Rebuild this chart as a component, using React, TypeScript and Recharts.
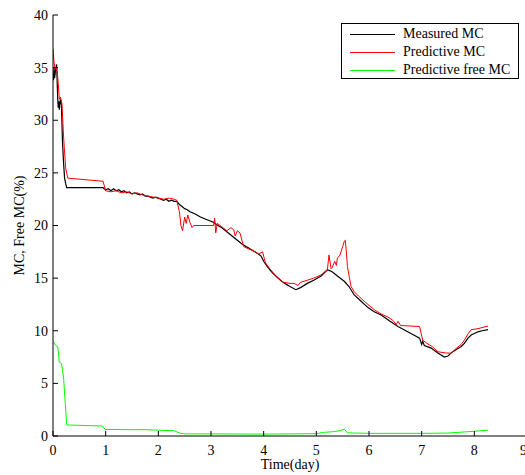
import { LineChart, Line, XAxis, YAxis, Legend } from "recharts";

// measured moisture content (%) vs time (day)
const measuredMC = [
  { t: 0.0, v: 34.5 }, { t: 0.01, v: 33.8 }, { t: 0.02, v: 35.0 }, { t: 0.03, v: 34.0 },
  { t: 0.05, v: 34.8 }, { t: 0.07, v: 35.3 }, { t: 0.08, v: 33.5 }, { t: 0.09, v: 32.0 },
  { t: 0.1, v: 31.2 }, { t: 0.11, v: 31.8 }, { t: 0.12, v: 31.0 }, { t: 0.14, v: 32.0 },
  { t: 0.16, v: 31.5 }, { t: 0.18, v: 28.0 }, { t: 0.2, v: 26.0 }, { t: 0.22, v: 24.5 },
  { t: 0.24, v: 24.0 }, { t: 0.26, v: 23.6 }, { t: 0.95, v: 23.6 }, { t: 0.97, v: 23.5 },
  { t: 1.0, v: 23.4 }, { t: 1.05, v: 23.5 }, { t: 1.1, v: 23.3 }, { t: 1.15, v: 23.5 },
  { t: 1.2, v: 23.3 }, { t: 1.25, v: 23.4 }, { t: 1.3, v: 23.2 }, { t: 1.35, v: 23.3 },
  { t: 1.4, v: 23.1 }, { t: 1.45, v: 23.2 }, { t: 1.5, v: 23.0 }, { t: 1.55, v: 23.1 },
  { t: 1.6, v: 23.0 }, { t: 1.65, v: 22.9 }, { t: 1.7, v: 23.0 }, { t: 1.75, v: 22.8 },
  { t: 1.8, v: 22.8 }, { t: 1.85, v: 22.7 }, { t: 1.9, v: 22.6 }, { t: 1.95, v: 22.7 },
  { t: 2.0, v: 22.6 }, { t: 2.05, v: 22.5 }, { t: 2.1, v: 22.4 }, { t: 2.15, v: 22.5 },
  { t: 2.2, v: 22.3 }, { t: 2.25, v: 22.4 }, { t: 2.3, v: 22.3 }, { t: 2.35, v: 22.3 },
  { t: 2.4, v: 22.0 }, { t: 2.45, v: 21.8 }, { t: 2.5, v: 21.6 }, { t: 2.55, v: 21.5 },
  { t: 2.6, v: 21.3 }, { t: 2.7, v: 21.1 }, { t: 2.8, v: 20.8 }, { t: 2.9, v: 20.6 },
  { t: 3.0, v: 20.4 }, { t: 3.05, v: 20.3 }, { t: 3.1, v: 20.1 }, { t: 3.2, v: 19.8 },
  { t: 3.3, v: 19.4 }, { t: 3.4, v: 19.0 }, { t: 3.5, v: 18.6 }, { t: 3.6, v: 18.2 },
  { t: 3.7, v: 17.9 }, { t: 3.8, v: 17.6 }, { t: 3.9, v: 17.3 }, { t: 3.95, v: 17.1 },
  { t: 4.0, v: 16.6 }, { t: 4.07, v: 16.1 }, { t: 4.15, v: 15.6 }, { t: 4.25, v: 15.1 },
  { t: 4.32, v: 14.8 }, { t: 4.4, v: 14.5 }, { t: 4.5, v: 14.2 }, { t: 4.61, v: 13.9 },
  { t: 4.7, v: 14.1 }, { t: 4.83, v: 14.5 }, { t: 4.95, v: 14.8 }, { t: 5.09, v: 15.2 },
  { t: 5.21, v: 15.8 }, { t: 5.3, v: 15.6 }, { t: 5.4, v: 15.2 }, { t: 5.53, v: 14.7 },
  { t: 5.62, v: 14.2 }, { t: 5.72, v: 13.4 }, { t: 5.85, v: 12.8 }, { t: 5.98, v: 12.2 },
  { t: 6.1, v: 11.8 }, { t: 6.23, v: 11.5 }, { t: 6.4, v: 10.9 }, { t: 6.55, v: 10.4 },
  { t: 6.7, v: 10.0 }, { t: 6.85, v: 9.6 }, { t: 6.96, v: 9.3 }, { t: 7.0, v: 8.7 },
  { t: 7.02, v: 9.0 }, { t: 7.05, v: 8.6 }, { t: 7.18, v: 8.35 }, { t: 7.3, v: 7.9 },
  { t: 7.43, v: 7.5 }, { t: 7.5, v: 7.6 }, { t: 7.56, v: 7.9 }, { t: 7.65, v: 8.2 },
  { t: 7.75, v: 8.5 }, { t: 7.81, v: 8.8 }, { t: 7.88, v: 9.3 }, { t: 7.94, v: 9.6 },
  { t: 8.07, v: 9.9 }, { t: 8.15, v: 10.0 }, { t: 8.26, v: 10.1 },
];

const predictiveMC = [
  { t: 0.0, v: 36.8 }, { t: 0.02, v: 35.5 }, { t: 0.04, v: 34.9 }, { t: 0.06, v: 35.0 },
  { t: 0.08, v: 34.6 }, { t: 0.1, v: 33.5 }, { t: 0.12, v: 32.0 }, { t: 0.14, v: 32.2 },
  { t: 0.17, v: 31.6 }, { t: 0.2, v: 28.5 }, { t: 0.24, v: 25.5 }, { t: 0.28, v: 24.5 },
  { t: 0.95, v: 24.2 }, { t: 1.0, v: 23.3 }, { t: 1.1, v: 23.2 }, { t: 1.2, v: 23.3 },
  { t: 1.3, v: 23.1 }, { t: 1.4, v: 23.2 }, { t: 1.5, v: 23.0 }, { t: 1.6, v: 23.1 },
  { t: 1.7, v: 22.9 }, { t: 1.8, v: 22.8 }, { t: 1.9, v: 22.7 }, { t: 2.0, v: 22.6 },
  { t: 2.1, v: 22.5 }, { t: 2.2, v: 22.6 }, { t: 2.3, v: 22.5 }, { t: 2.35, v: 22.4 },
  { t: 2.4, v: 21.3 }, { t: 2.43, v: 20.0 }, { t: 2.46, v: 19.5 }, { t: 2.5, v: 20.8 },
  { t: 2.53, v: 20.2 }, { t: 2.56, v: 21.0 }, { t: 2.6, v: 20.3 }, { t: 2.64, v: 19.8 },
  { t: 2.67, v: 20.0 }, { t: 3.05, v: 20.0 }, { t: 3.07, v: 20.7 }, { t: 3.09, v: 19.3 },
  { t: 3.12, v: 20.2 }, { t: 3.2, v: 19.9 }, { t: 3.3, v: 19.5 }, { t: 3.38, v: 19.8 },
  { t: 3.43, v: 19.6 }, { t: 3.46, v: 19.0 }, { t: 3.5, v: 19.5 }, { t: 3.55, v: 19.3 },
  { t: 3.62, v: 18.0 }, { t: 3.7, v: 17.8 }, { t: 3.8, v: 17.6 }, { t: 3.9, v: 17.3 },
  { t: 3.98, v: 17.5 }, { t: 4.03, v: 16.5 }, { t: 4.1, v: 16.0 }, { t: 4.2, v: 15.4 },
  { t: 4.3, v: 14.9 }, { t: 4.38, v: 14.6 }, { t: 4.5, v: 14.5 }, { t: 4.58, v: 14.5 },
  { t: 4.65, v: 14.3 }, { t: 4.7, v: 14.6 }, { t: 4.83, v: 14.8 }, { t: 4.95, v: 15.0 },
  { t: 5.09, v: 15.3 }, { t: 5.21, v: 15.8 }, { t: 5.24, v: 17.2 }, { t: 5.28, v: 15.9 },
  { t: 5.3, v: 16.0 }, { t: 5.35, v: 16.6 }, { t: 5.38, v: 16.2 }, { t: 5.4, v: 16.9 },
  { t: 5.45, v: 17.2 }, { t: 5.5, v: 18.0 }, { t: 5.53, v: 18.5 }, { t: 5.55, v: 18.6 },
  { t: 5.57, v: 17.5 }, { t: 5.59, v: 16.1 }, { t: 5.63, v: 15.0 }, { t: 5.66, v: 14.2 },
  { t: 5.72, v: 13.7 }, { t: 5.8, v: 13.3 }, { t: 5.91, v: 12.8 }, { t: 5.98, v: 12.5 },
  { t: 6.1, v: 12.0 }, { t: 6.23, v: 11.6 }, { t: 6.36, v: 11.3 }, { t: 6.45, v: 11.0 },
  { t: 6.52, v: 10.6 }, { t: 6.55, v: 10.9 }, { t: 6.6, v: 10.5 }, { t: 6.96, v: 10.4 },
  { t: 7.02, v: 9.1 }, { t: 7.1, v: 8.8 }, { t: 7.2, v: 8.5 }, { t: 7.31, v: 8.0 },
  { t: 7.45, v: 7.9 }, { t: 7.56, v: 7.86 }, { t: 7.65, v: 8.3 }, { t: 7.75, v: 8.7 },
  { t: 7.81, v: 9.1 }, { t: 7.88, v: 9.7 }, { t: 7.94, v: 10.1 }, { t: 8.07, v: 10.2 },
  { t: 8.26, v: 10.45 },
];

const predictiveFreeMC = [
  { t: 0.0, v: 9.0 }, { t: 0.05, v: 8.6 }, { t: 0.09, v: 8.5 }, { t: 0.12, v: 7.0 },
  { t: 0.16, v: 6.9 }, { t: 0.2, v: 5.6 }, { t: 0.26, v: 1.05 }, { t: 0.93, v: 0.95 },
  { t: 0.99, v: 0.63 }, { t: 1.5, v: 0.6 }, { t: 1.8, v: 0.6 }, { t: 2.0, v: 0.55 },
  { t: 2.3, v: 0.5 }, { t: 2.42, v: 0.25 }, { t: 2.5, v: 0.2 }, { t: 3.0, v: 0.2 },
  { t: 4.0, v: 0.18 }, { t: 5.0, v: 0.22 }, { t: 5.15, v: 0.35 }, { t: 5.3, v: 0.4 },
  { t: 5.45, v: 0.5 }, { t: 5.53, v: 0.66 }, { t: 5.59, v: 0.3 }, { t: 6.0, v: 0.25 },
  { t: 7.0, v: 0.25 }, { t: 7.5, v: 0.28 }, { t: 8.0, v: 0.45 }, { t: 8.26, v: 0.55 },
];

const xTicks = [0, 1, 2, 3, 4, 5, 6, 7, 8, 9];
const yTicks = [0, 5, 10, 15, 20, 25, 30, 35, 40];

const FONT = "'Liberation Serif', 'Times New Roman', serif";
const tickStyle = { fill: "#000", fontSize: 14, fontFamily: FONT };

function LegendBox({ payload }: { payload?: any[] }) {
  return (
    <div
      style={{
        width: 178,
        height: 56,
        border: "1px solid #000",
        background: "#fff",
        boxSizing: "border-box",
        paddingTop: 1,
        fontFamily: FONT,
        fontSize: 14,
        color: "#000",
      }}
    >
      {(payload || []).map((p) => (
        <div key={p.value} style={{ display: "flex", alignItems: "center", height: 18 }}>
          <span style={{ marginLeft: 8, width: 45, height: 1, background: p.color }} />
          <span style={{ marginLeft: 8, lineHeight: "18px" }}>{p.value}</span>
        </div>
      ))}
    </div>
  );
}

function YLabel(props: any) {
  const vb = props.viewBox;
  const cx = vb.x + 19;
  const cy = vb.y + vb.height / 2;
  return (
    <text
      transform={`translate(${cx},${cy}) rotate(-90)`}
      textAnchor="middle"
      dominantBaseline="central"
      fontFamily={FONT}
      fontSize={14}
      fill="#000"
    >
      MC, Free MC(%)
    </text>
  );
}

export default function App() {
  // the figure is cropped on the right, so the chart is a bit wider than the window
  return (
    <div style={{ position: "absolute", left: 0, top: 0, background: "#fff", overflow: "hidden", width: 525, height: 475 }}>
      <LineChart width={527} height={475} margin={{ top: 15, right: 0, bottom: 0, left: 0 }}>
        <XAxis
          xAxisId="b"
          dataKey="t"
          type="number"
          domain={[0, 9]}
          ticks={xTicks}
          allowDataOverflow
          height={39}
          tickSize={-5}
          tickMargin={14}
          tick={tickStyle}
          stroke="#000"
          label={{ value: "Time(day)", position: "insideBottom", offset: 6, fill: "#000", fontSize: 14, fontFamily: FONT }}
        />
        <XAxis
          xAxisId="top"
          orientation="top"
          type="number"
          domain={[0, 9]}
          ticks={xTicks}
          allowDataOverflow
          height={0}
          tickSize={-5}
          tick={false}
          stroke="#000"
        />
        <YAxis
          yAxisId="l"
          type="number"
          domain={[0, 40]}
          ticks={yTicks}
          allowDataOverflow
          width={53}
          tickSize={-5}
          tickMargin={10}
          tick={tickStyle}
          stroke="#000"
          label={{ content: YLabel }}
        />
        <YAxis
          yAxisId="r"
          orientation="right"
          type="number"
          domain={[0, 40]}
          ticks={yTicks}
          allowDataOverflow
          width={0}
          tickSize={-5}
          tick={false}
          stroke="#000"
        />
        <Legend
          layout="vertical"
          align="center"
          verticalAlign="middle"
          wrapperStyle={{ left: 341, top: 23, width: 178, height: 56 }}
          content={<LegendBox />}
        />
        <Line
          xAxisId="b"
          yAxisId="l"
          data={measuredMC}
          dataKey="v"
          name="Measured MC"
          stroke="#000000"
          strokeWidth={1.2}
          dot={false}
          isAnimationActive={false}
        />
        <Line
          xAxisId="b"
          yAxisId="l"
          data={predictiveMC}
          dataKey="v"
          name="Predictive MC"
          stroke="#ff0000"
          strokeWidth={1}
          dot={false}
          isAnimationActive={false}
        />
        <Line
          xAxisId="b"
          yAxisId="l"
          data={predictiveFreeMC}
          dataKey="v"
          name="Predictive free MC"
          stroke="#00ff00"
          strokeWidth={1}
          dot={false}
          isAnimationActive={false}
        />
      </LineChart>
    </div>
  );
}
